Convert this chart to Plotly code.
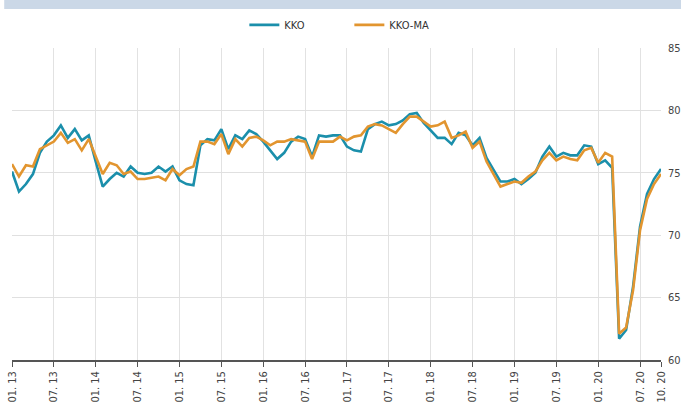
import plotly.graph_objects as go

# Monthly labels 01.13 .. 10.20
years = [13, 14, 15, 16, 17, 18, 19, 20]
months = [f"{m:02d}.{y}" for y in years for m in range(1, 13)][:94]

kko = [75.1, 73.5, 74.1, 74.9, 76.6, 77.5, 78.0, 78.8, 77.8, 78.5, 77.6, 78.0,
       75.9, 73.9, 74.5, 75.0, 74.7, 75.5, 75.0, 74.9, 75.0, 75.5, 75.1, 75.5,
       74.4, 74.1, 74.0, 77.2, 77.7, 77.6, 78.5, 76.9, 78.0, 77.7, 78.4, 78.1,
       77.5, 76.8, 76.1, 76.6, 77.5, 77.9, 77.7, 76.3, 78.0, 77.9, 78.0, 78.0,
       77.1, 76.8, 76.7, 78.5, 78.9, 79.1, 78.8, 78.9, 79.2, 79.7, 79.8, 79.0,
       78.4, 77.8, 77.8, 77.3, 78.2, 78.0, 77.2, 77.8, 76.2, 75.3, 74.3, 74.3,
       74.5, 74.1, 74.5, 75.0, 76.3, 77.1, 76.3, 76.6, 76.4, 76.4, 77.2, 77.1,
       75.7, 76.0, 75.4, 61.7, 62.4, 65.9, 70.7, 73.3, 74.5, 75.3]

kko_ma = [75.7, 74.7, 75.6, 75.5, 76.9, 77.2, 77.5, 78.2, 77.4, 77.7, 76.8, 77.7,
          76.3, 74.9, 75.8, 75.6, 74.9, 75.1, 74.5, 74.5, 74.6, 74.7, 74.4, 75.3,
          74.8, 75.3, 75.5, 77.5, 77.5, 77.3, 78.1, 76.5, 77.7, 77.1, 77.8, 77.9,
          77.6, 77.2, 77.5, 77.5, 77.7, 77.6, 77.5, 76.1, 77.5, 77.5, 77.5, 77.9,
          77.6, 77.9, 78.0, 78.7, 78.9, 78.8, 78.5, 78.2, 78.9, 79.5, 79.5, 79.1,
          78.7, 78.8, 79.1, 77.8, 78.0, 78.3, 77.0, 77.5, 75.9, 74.9, 73.9, 74.1,
          74.3, 74.2, 74.7, 75.1, 76.0, 76.6, 76.0, 76.3, 76.1, 76.0, 76.8, 77.0,
          75.8, 76.6, 76.3, 62.1, 62.6, 65.6, 70.4, 72.9, 74.1, 74.9]

tick_labels = ["01.13", "07.13", "01.14", "07.14", "01.15", "07.15", "01.16", "07.16",
               "01.17", "07.17", "01.18", "07.18", "01.19", "07.19", "01.20", "07.20", "10.20"]
y_ticks = [60, 65, 70, 75, 80, 85]

x_idx = list(range(len(months)))
tick_idx = [months.index(t) for t in tick_labels]
tick_text = [t.replace(".", ". ") for t in tick_labels]

FONT = "Liberation Sans Narrow, DejaVu Sans Condensed, Arial Narrow, sans-serif"

fig = go.Figure()
fig.add_trace(go.Scatter(x=x_idx, y=kko, mode="lines", name="KKO",
                         line=dict(color="#1b8fab", width=2.6)))
fig.add_trace(go.Scatter(x=x_idx, y=kko_ma, mode="lines", name="KKO-MA",
                         line=dict(color="#e2952f", width=2.6)))

fig.update_layout(
    width=681, height=405,
    margin=dict(l=12, r=20, t=48, b=45, autoexpand=False),
    paper_bgcolor="white", plot_bgcolor="white",
    font=dict(family=FONT, size=11, color="#444444"),
    showlegend=True,
    legend=dict(orientation="h", x=0.513, xanchor="center", xref="container",
                y=1.074, yanchor="middle", yref="paper",
                bgcolor="rgba(0,0,0,0)",
                font=dict(size=11, color="#333333"),
                itemwidth=30, entrywidth=60, entrywidthmode="pixels"),
    shapes=[dict(type="rect", xref="paper", yref="paper",
                 x0=-0.012, x1=1.05, y0=1.125, y1=1.16,
                 fillcolor="#cbd8e7", line=dict(width=0), layer="below")],
)
fig.update_xaxes(
    range=[0, 93], tickmode="array", tickvals=tick_idx, ticktext=tick_text,
    tickangle=-90, showgrid=True, gridcolor="#e2e2e2", gridwidth=1,
    showline=True, linecolor="#555555", linewidth=1.5,
    ticks="outside", ticklen=5, tickcolor="#555555",
    tickfont=dict(size=11, color="#444444"), zeroline=False,
)
fig.update_yaxes(
    range=[60, 85], side="right", tickmode="array", tickvals=y_ticks,
    showgrid=True, gridcolor="#e0e0e0", gridwidth=1, zeroline=False,
    showline=False, ticks="", ticklabelstandoff=6,
    tickfont=dict(size=11, color="#444444"),
)

fig.write_html("out.html", config={"displayModeBar": False},
               post_script="document.body.style.margin='0px';document.body.style.padding='0px';")
